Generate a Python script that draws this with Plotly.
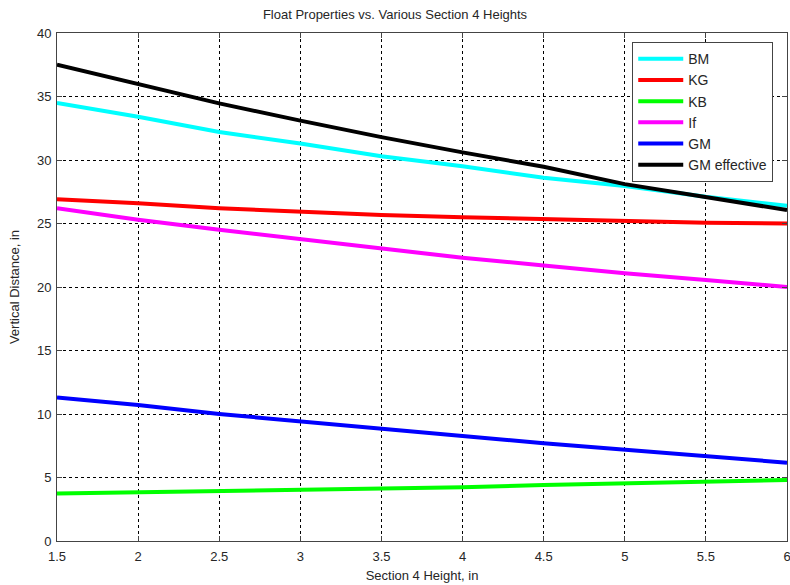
import plotly.graph_objects as go

# Section 4 height (in) and the resulting float properties (in)
heights = [1.5, 2.0, 2.5, 3.0, 3.5, 4.0, 4.5, 5.0, 5.5, 6.0]
bm = [34.5, 33.4, 32.2, 31.3, 30.3, 29.5, 28.6, 27.95, 27.1, 26.4]
kg = [26.9, 26.6, 26.2, 25.9, 25.67, 25.5, 25.35, 25.2, 25.06, 25.0]
kb = [3.75, 3.83, 3.94, 4.04, 4.12, 4.23, 4.41, 4.54, 4.67, 4.8]
lf = [26.2, 25.3, 24.5, 23.76, 23.0, 22.3, 21.7, 21.08, 20.55, 20.0]
gm = [11.3, 10.7, 10.0, 9.4, 8.87, 8.27, 7.69, 7.17, 6.64, 6.17]
gm_eff = [37.5, 36.0, 34.46, 33.1, 31.8, 30.6, 29.47, 28.1, 27.1, 26.06]

x_ticks = [1.5, 2, 2.5, 3, 3.5, 4, 4.5, 5, 5.5, 6]
x_tick_labels = ["1.5", "2", "2.5", "3", "3.5", "4", "4.5", "5", "5.5", "6"]
y_ticks = [0, 5, 10, 15, 20, 25, 30, 35, 40]

series = [
    ("BM", bm, "#00ffff"),
    ("KG", kg, "#ff0000"),
    ("KB", kb, "#00ff00"),
    ("If", lf, "#ff00ff"),
    ("GM", gm, "#0000ff"),
    ("GM effective", gm_eff, "#000000"),
]

fig = go.Figure()
for name, vals, color in series:
    fig.add_trace(go.Scatter(
        x=heights, y=vals, name=name, mode="lines",
        line=dict(color=color, width=4),
    ))

font_family = "Liberation Sans, Arial"
text_color = "#262626"

axis_common = dict(
    showline=True, linecolor="#444444", linewidth=1, mirror="ticks",
    ticks="inside", ticklen=5, tickcolor="#444444",
    showgrid=True, gridcolor="#000000", gridwidth=1, griddash="3px,3px",
    zeroline=False, ticklabeloverflow="allow", automargin=False,
    tickfont=dict(family=font_family, size=13, color=text_color),
    title_font=dict(family=font_family, size=13, color=text_color),
)

fig.update_xaxes(range=[1.5, 6], tickvals=x_ticks, ticktext=x_tick_labels,
                 ticklabelstandoff=3,
                 title_text="Section 4 Height, in", title_standoff=8, **axis_common)
fig.update_yaxes(range=[0, 40], tickvals=y_ticks, ticklabelstandoff=2,
                 title_text="Vertical Distance, in", title_standoff=14, **axis_common)

fig.update_layout(
    width=790, height=585,
    margin=dict(l=57, r=3, t=33, b=44),
    paper_bgcolor="white", plot_bgcolor="white",
    title=dict(text="Float Properties vs. Various Section 4 Heights",
               x=0.5, xanchor="center", y=0.975, yanchor="middle",
               font=dict(family=font_family, size=13, color=text_color)),
    legend=dict(x=0.788, y=0.982, xanchor="left", yanchor="top",
                bgcolor="white", bordercolor="#444444", borderwidth=1,
                font=dict(family=font_family, size=14, color=text_color),
                itemwidth=45, tracegroupgap=0),
    showlegend=True,
)

fig.write_html("out.html")
